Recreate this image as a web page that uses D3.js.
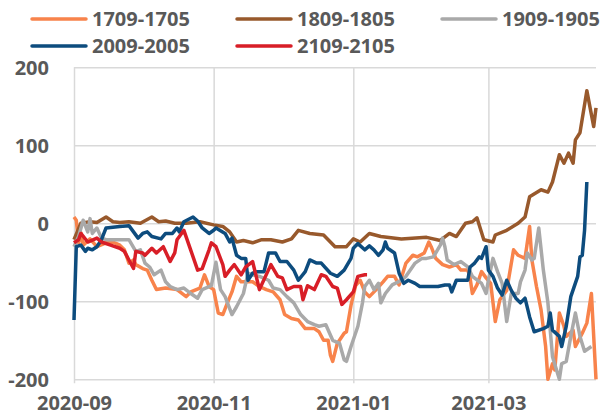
<!DOCTYPE html>
<html>
<head>
<meta charset="utf-8">
<script src="https://cdn.jsdelivr.net/npm/d3@7"></script>
<style>
  body { margin: 0; background: #fff; }
  text { font-family: "Open Sans", sans-serif; font-weight: bold; fill: #595959; }
</style>
</head>
<body>
<script>
// Spread series, daily values
let s1709 = [["2020-09-01",8],["2020-09-02",4],["2020-09-03",-25],["2020-09-04",-12],["2020-09-05",-28],["2020-09-08",-20],["2020-09-11",-30],["2020-09-15",-25],["2020-09-18",-24],["2020-09-21",-28],["2020-09-23",-34],["2020-09-25",-51],["2020-09-27",-47],["2020-09-28",-53],["2020-10-01",-58],["2020-10-03",-60],["2020-10-05",-73],["2020-10-07",-85],["2020-10-11",-83],["2020-10-16",-85],["2020-10-20",-94],["2020-10-22",-88],["2020-10-26",-83],["2020-10-28",-66],["2020-10-30",-81],["2020-11-01",-85],["2020-11-03",-115],["2020-11-05",-117],["2020-11-07",-102],["2020-11-09",-88],["2020-11-11",-68],["2020-11-13",-75],["2020-11-15",-75],["2020-11-18",-75],["2020-11-21",-81],["2020-11-24",-85],["2020-11-27",-88],["2020-11-30",-98],["2020-12-02",-117],["2020-12-05",-122],["2020-12-08",-124],["2020-12-11",-135],["2020-12-15",-135],["2020-12-17",-139],["2020-12-19",-150],["2020-12-21",-150],["2020-12-22",-169],["2020-12-23",-177],["2020-12-25",-154],["2020-12-28",-141],["2020-12-29",-139],["2020-12-31",-105],["2021-01-02",-80],["2021-01-04",-73],["2021-01-06",-88],["2021-01-08",-94],["2021-01-11",-85],["2021-01-14",-75],["2021-01-16",-68],["2021-01-19",-68],["2021-01-21",-79],["2021-01-24",-51],["2021-01-27",-41],["2021-01-29",-43],["2021-02-01",-38],["2021-02-03",-24],["2021-02-04",-30],["2021-02-06",-45],["2021-02-09",-53],["2021-02-12",-56],["2021-02-15",-53],["2021-02-17",-60],["2021-02-20",-60],["2021-02-21",-70],["2021-02-22",-90],["2021-02-24",-79],["2021-02-26",-62],["2021-02-28",-70],["2021-03-02",-77],["2021-03-04",-126],["2021-03-06",-98],["2021-03-09",-86],["2021-03-12",-34],["2021-03-14",-41],["2021-03-17",-45],["2021-03-19",-4],["2021-03-20",-47],["2021-03-22",-81],["2021-03-24",-111],["2021-03-26",-158],["2021-03-27",-200],["2021-03-29",-180],["2021-03-30",-188],["2021-04-01",-115],["2021-04-03",-132],["2021-04-04",-145],["2021-04-07",-137],["2021-04-08",-158],["2021-04-11",-141],["2021-04-13",-128],["2021-04-15",-90],["2021-04-17",-200]]

let s1809 = [["2020-09-01",-21],["2020-09-04",0],["2020-09-08",2],["2020-09-11",1],["2020-09-15",8],["2020-09-18",2],["2020-09-21",1],["2020-09-25",2],["2020-09-30",0],["2020-10-05",8],["2020-10-08",2],["2020-10-11",3],["2020-10-15",0],["2020-10-20",0],["2020-10-26",2],["2020-11-01",-2],["2020-11-05",-4],["2020-11-08",-11],["2020-11-11",-24],["2020-11-14",-22],["2020-11-18",-25],["2020-11-22",-21],["2020-11-26",-21],["2020-12-01",-24],["2020-12-05",-20],["2020-12-08",-9],["2020-12-13",-13],["2020-12-19",-15],["2020-12-24",-30],["2020-12-29",-30],["2021-01-01",-20],["2021-01-04",-24],["2021-01-08",-13],["2021-01-13",-17],["2021-01-22",-20],["2021-02-02",-18],["2021-02-08",-22],["2021-02-12",-13],["2021-02-15",-17],["2021-02-19",0],["2021-02-22",2],["2021-02-24",7],["2021-02-27",-21],["2021-03-03",-24],["2021-03-04",-15],["2021-03-09",-9],["2021-03-14",0],["2021-03-17",8],["2021-03-19",34],["2021-03-24",43],["2021-03-27",40],["2021-03-29",53],["2021-04-01",88],["2021-04-03",77],["2021-04-05",90],["2021-04-07",77],["2021-04-08",107],["2021-04-10",116],["2021-04-13",170],["2021-04-16",124],["2021-04-17",148]]

let s1909 = [["2020-09-01",-30],["2020-09-03",-17],["2020-09-05",4],["2020-09-07",-11],["2020-09-08",6],["2020-09-09",-13],["2020-09-11",-6],["2020-09-13",-19],["2020-09-15",-21],["2020-09-21",-21],["2020-09-25",-21],["2020-09-28",-36],["2020-09-30",-34],["2020-10-02",-51],["2020-10-04",-56],["2020-10-06",-66],["2020-10-09",-60],["2020-10-11",-75],["2020-10-13",-81],["2020-10-16",-85],["2020-10-19",-83],["2020-10-22",-90],["2020-10-25",-96],["2020-10-27",-85],["2020-10-31",-80],["2020-11-02",-50],["2020-11-04",-85],["2020-11-06",-94],["2020-11-09",-117],["2020-11-11",-107],["2020-11-14",-90],["2020-11-16",-64],["2020-11-18",-66],["2020-11-21",-68],["2020-11-25",-73],["2020-11-27",-83],["2020-11-30",-85],["2020-12-03",-94],["2020-12-06",-102],["2020-12-09",-117],["2020-12-12",-126],["2020-12-15",-130],["2020-12-17",-132],["2020-12-20",-130],["2020-12-23",-150],["2020-12-26",-154],["2020-12-28",-175],["2020-12-29",-177],["2020-12-31",-158],["2021-01-03",-132],["2021-01-05",-102],["2021-01-06",-81],["2021-01-08",-73],["2021-01-10",-85],["2021-01-12",-77],["2021-01-13",-102],["2021-01-15",-90],["2021-01-18",-79],["2021-01-22",-73],["2021-01-24",-68],["2021-01-28",-51],["2021-01-31",-45],["2021-02-02",-45],["2021-02-05",-43],["2021-02-08",-28],["2021-02-09",-19],["2021-02-10",-30],["2021-02-11",-47],["2021-02-14",-53],["2021-02-17",-49],["2021-02-20",-56],["2021-02-22",-68],["2021-02-26",-77],["2021-02-28",-90],["2021-03-01",-73],["2021-03-03",-45],["2021-03-05",-62],["2021-03-07",-77],["2021-03-09",-126],["2021-03-11",-90],["2021-03-14",-90],["2021-03-15",-75],["2021-03-17",-60],["2021-03-18",-38],["2021-03-20",-47],["2021-03-21",-45],["2021-03-23",-6],["2021-03-25",-60],["2021-03-27",-102],["2021-03-29",-171],["2021-04-01",-200],["2021-04-02",-180],["2021-04-04",-177],["2021-04-06",-145],["2021-04-08",-115],["2021-04-10",-145],["2021-04-12",-164],["2021-04-15",-158]]

let s2009 = [["2020-09-01",-124],["2020-09-02",-30],["2020-09-04",-28],["2020-09-06",-36],["2020-09-07",-32],["2020-09-09",-34],["2020-09-11",-30],["2020-09-13",-21],["2020-09-15",-6],["2020-09-21",-4],["2020-09-25",-3],["2020-09-29",-19],["2020-10-01",-13],["2020-10-03",-11],["2020-10-05",-17],["2020-10-09",-20],["2020-10-11",-13],["2020-10-14",-13],["2020-10-16",-6],["2020-10-17",-11],["2020-10-19",2],["2020-10-23",8],["2020-10-25",3],["2020-10-27",-6],["2020-10-30",-13],["2020-11-01",-9],["2020-11-02",-6],["2020-11-06",-13],["2020-11-08",-24],["2020-11-09",-19],["2020-11-11",-41],["2020-11-13",-45],["2020-11-15",-45],["2020-11-16",-73],["2020-11-18",-64],["2020-11-20",-62],["2020-11-23",-62],["2020-11-25",-38],["2020-11-28",-38],["2020-11-30",-49],["2020-12-03",-49],["2020-12-06",-60],["2020-12-08",-73],["2020-12-11",-62],["2020-12-13",-47],["2020-12-16",-51],["2020-12-18",-51],["2020-12-22",-64],["2020-12-25",-68],["2020-12-28",-60],["2020-12-31",-45],["2021-01-01",-32],["2021-01-03",-26],["2021-01-06",-34],["2021-01-08",-29],["2021-01-10",-34],["2021-01-12",-41],["2021-01-14",-34],["2021-01-15",-24],["2021-01-16",-32],["2021-01-19",-38],["2021-01-21",-64],["2021-01-23",-77],["2021-01-25",-73],["2021-01-28",-77],["2021-01-30",-81],["2021-02-07",-81],["2021-02-10",-79],["2021-02-12",-79],["2021-02-13",-88],["2021-02-15",-73],["2021-02-20",-73],["2021-02-21",-56],["2021-02-23",-51],["2021-02-25",-43],["2021-02-26",-45],["2021-02-28",-30],["2021-03-01",-60],["2021-03-03",-68],["2021-03-05",-83],["2021-03-07",-92],["2021-03-09",-73],["2021-03-11",-86],["2021-03-13",-96],["2021-03-15",-102],["2021-03-17",-96],["2021-03-19",-120],["2021-03-21",-139],["2021-03-25",-135],["2021-03-27",-132],["2021-03-28",-115],["2021-03-29",-137],["2021-04-01",-145],["2021-04-02",-158],["2021-04-04",-132],["2021-04-06",-94],["2021-04-09",-68],["2021-04-10",-43],["2021-04-11",-41],["2021-04-12",-9],["2021-04-13",53]]

let s2109 = [["2020-09-01",-25],["2020-09-03",-21],["2020-09-04",-13],["2020-09-07",-24],["2020-09-11",-19],["2020-09-13",-24],["2020-09-17",-28],["2020-09-21",-32],["2020-09-23",-36],["2020-09-25",-47],["2020-09-27",-58],["2020-09-28",-36],["2020-10-01",-38],["2020-10-02",-41],["2020-10-05",-32],["2020-10-07",-38],["2020-10-10",-30],["2020-10-13",-49],["2020-10-15",-38],["2020-10-16",-21],["2020-10-19",-9],["2020-10-21",-26],["2020-10-25",-60],["2020-10-27",-58],["2020-10-30",-34],["2020-10-31",-25],["2020-11-02",-30],["2020-11-05",-53],["2020-11-06",-68],["2020-11-08",-60],["2020-11-10",-53],["2020-11-13",-66],["2020-11-15",-56],["2020-11-18",-49],["2020-11-21",-85],["2020-11-26",-53],["2020-11-29",-68],["2020-12-01",-70],["2020-12-03",-85],["2020-12-06",-81],["2020-12-09",-81],["2020-12-10",-98],["2020-12-12",-80],["2020-12-15",-85],["2020-12-18",-66],["2020-12-20",-68],["2020-12-23",-81],["2020-12-25",-83],["2020-12-27",-104],["2020-12-29",-98],["2021-01-01",-88],["2021-01-03",-68],["2021-01-06",-66],["2021-01-07",-66]]

let seriesNames = ["1709-1705", "1809-1805", "1909-1905", "2009-2005", "2109-2105"]
let seriesData = [s1709, s1809, s1909, s2009, s2109]
let colors = ["#F8834B", "#98592C", "#A9A9A9", "#0D4C7E", "#D81E27"]
let yTicks = [-200, -100, 0, 100, 200]

let width = 601, height = 418
let margin = { top: 67.3, bottom: 38.7, left: 74, right: 5 }

let parse = d3.timeParse("%Y-%m-%d")

let svg = d3.select('body')
  .append('svg')
  .attr('width', width)
  .attr('height', height)

let xScale = d3.scaleTime()
  .domain([parse("2020-09-01"), parse("2021-04-17")])
  .range([margin.left, width - margin.right])

let yScale = d3.scaleLinear()
  .domain([-200, 200])
  .range([height - margin.bottom, margin.top])

// horizontal grid
svg.append('g')
  .attr('transform', `translate(${margin.left},0)`)
  .call(d3.axisLeft(yScale).tickValues(yTicks).tickSize(-(width - margin.left - margin.right)).tickFormat(''))
  .call(g => g.select('.domain').remove())
  .call(g => g.selectAll('line').attr('stroke', '#D9D9D9').attr('stroke-width', 1.5))

// vertical grid + x labels
let xTickVals = d3.timeMonth.every(2).range(parse("2020-09-01"), parse("2021-04-02"))
svg.append('g')
  .attr('transform', `translate(0,${height - margin.bottom + 4})`)
  .call(d3.axisBottom(xScale).tickValues(xTickVals).tickSize(-(height - margin.bottom - margin.top + 4)).tickFormat(d3.timeFormat('%Y-%m')))
  .call(g => g.select('.domain').remove())
  .call(g => g.selectAll('line').attr('stroke', '#D9D9D9').attr('stroke-width', 1.5))
  .call(g => g.selectAll('text').attr('y', 27).attr('dy', null).style('font-size', '20px'))

// y labels
svg.append('g')
  .selectAll('text')
  .data(yTicks)
  .enter()
  .append('text')
  .attr('x', 49)
  .attr('y', d => yScale(d))
  .attr('dy', '0.36em')
  .style('text-anchor', 'end')
  .style('font-size', '20px')
  .text(d => d)

let line = d3.line()
  .x(d => xScale(parse(d[0])))
  .y(d => yScale(d[1]))

seriesData.forEach((s, i) => {
  svg.append('path')
    .datum(s)
    .attr('fill', 'none')
    .attr('stroke', colors[i])
    .attr('stroke-width', 3.5)
    .attr('stroke-linejoin', 'round')
    .attr('d', line)
})

// legend
let legendPos = [[32, 19], [237, 19], [442, 19], [32, 46], [237, 46]]
seriesNames.forEach((name, i) => {
  let [lx, ly] = legendPos[i]
  svg.append('line')
    .attr('x1', lx).attr('x2', lx + 54)
    .attr('y1', ly).attr('y2', ly)
    .attr('stroke', colors[i])
    .attr('stroke-width', 3.5)
    .attr('stroke-linecap', 'round')
  svg.append('text')
    .attr('x', lx + 60)
    .attr('y', ly)
    .attr('dy', '0.36em')
    .style('font-size', '20px')
    .text(name)
})
</script>
</body>
</html>
